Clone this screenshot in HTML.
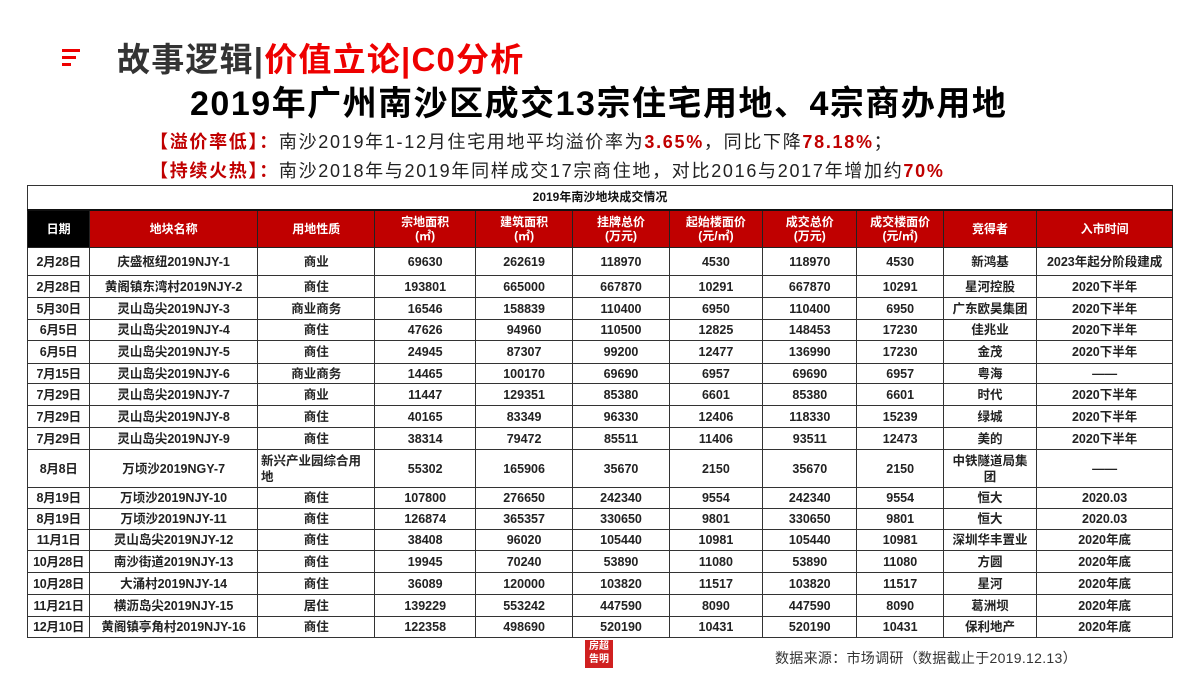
<!DOCTYPE html>
<html><head><meta charset="utf-8">
<style>
body{margin:0;width:1200px;height:676px;background:#fff;position:relative;overflow:hidden;font-family:"Liberation Sans","Noto Sans CJK SC",sans-serif;}
.abs{position:absolute;}
table{position:absolute;left:27px;top:185px;width:1146px;border-collapse:collapse;table-layout:fixed;}
td{border:1.5px solid #333;text-align:center;font-size:12.5px;font-weight:bold;color:#222;padding:0;line-height:14px;white-space:nowrap;overflow:hidden;}
tr.h td{background:#c00000;color:#fff;font-size:12px;border-color:#222;}
tr.h td:first-child{background:#000;}
tr.t td{font-size:12px;color:#111;}
</style></head><body>
<div class="abs" style="left:62px;top:49px;">
 <div style="width:18px;height:3px;background:#e00;margin-bottom:4px"></div>
 <div style="width:14px;height:3px;background:#e00;margin-bottom:4px"></div>
 <div style="width:9px;height:3px;background:#e00"></div>
</div>
<div class="abs" style="left:117px;top:40px;font-size:33px;font-weight:bold;line-height:40px;letter-spacing:1.2px;"><span style="color:#333">故事逻辑|</span><span style="color:#e00">价值立论|C0分析</span></div>
<div class="abs" style="left:190px;top:84px;width:840px;font-size:34px;font-weight:bold;line-height:40px;color:#000;letter-spacing:1.5px">2019年广州南沙区成交13宗住宅用地、4宗商办用地</div>
<div class="abs" style="left:150px;top:131px;font-size:18px;line-height:22px;color:#222;letter-spacing:1.7px;white-space:nowrap"><span style="color:#c00000;font-weight:bold">【溢价率低】：</span>南沙2019年1-12月住宅用地平均溢价率为<b style="color:#c00000">3.65%</b>，同比下降<b style="color:#c00000">78.18%</b>；</div>
<div class="abs" style="left:150px;top:160px;font-size:18px;line-height:22px;color:#222;letter-spacing:1.7px;white-space:nowrap"><span style="color:#c00000;font-weight:bold">【持续火热】：</span>南沙2018年与2019年同样成交17宗商住地，对比2016与2017年增加约<b style="color:#c00000">70%</b></div>

<table>
<colgroup><col style="width:62px"><col style="width:167px"><col style="width:117px"><col style="width:100px"><col style="width:97px"><col style="width:96px"><col style="width:93px"><col style="width:94px"><col style="width:86px"><col style="width:93px"><col style="width:135px"></colgroup>
<tr class="t" style="height:24px"><td colspan="11" style="border-bottom:2px solid #111">2019年南沙地块成交情况</td></tr>
<tr class="h" style="height:38px"><td>日期</td><td>地块名称</td><td>用地性质</td><td>宗地面积<br>(㎡)</td><td>建筑面积<br>(㎡)</td><td>挂牌总价<br>(万元)</td><td>起始楼面价<br>(元/㎡)</td><td>成交总价<br>(万元)</td><td>成交楼面价<br>(元/㎡)</td><td>竞得者</td><td>入市时间</td></tr>
<tbody id="tb"></tbody>
</table>

<div class="abs" style="left:585px;top:640px;width:28px;height:28px;background:#d02020;color:#fff;font-size:10px;line-height:13px;text-align:center;font-weight:bold">房超<br>告明</div>
<div class="abs" style="left:775px;top:648px;font-size:14px;color:#333;letter-spacing:0.3px">数据来源：市场调研（数据截止于2019.12.13）</div>

<script>
const rows=[
["2月28日","庆盛枢纽2019NJY-1","商业","69630","262619","118970","4530","118970","4530","新鸿基","2023年起分阶段建成",28],
["2月28日","黄阁镇东湾村2019NJY-2","商住","193801","665000","667870","10291","667870","10291","星河控股","2020下半年",22],
["5月30日","灵山岛尖2019NJY-3","商业商务","16546","158839","110400","6950","110400","6950","广东欧昊集团","2020下半年",22],
["6月5日","灵山岛尖2019NJY-4","商住","47626","94960","110500","12825","148453","17230","佳兆业","2020下半年",21],
["6月5日","灵山岛尖2019NJY-5","商住","24945","87307","99200","12477","136990","17230","金茂","2020下半年",23],
["7月15日","灵山岛尖2019NJY-6","商业商务","14465","100170","69690","6957","69690","6957","粤海","——",20],
["7月29日","灵山岛尖2019NJY-7","商业","11447","129351","85380","6601","85380","6601","时代","2020下半年",22],
["7月29日","灵山岛尖2019NJY-8","商住","40165","83349","96330","12406","118330","15239","绿城","2020下半年",22],
["7月29日","灵山岛尖2019NJY-9","商住","38314","79472","85511","11406","93511","12473","美的","2020下半年",22],
["8月8日","万顷沙2019NGY-7","新兴产业园综合用地","55302","165906","35670","2150","35670","2150","中铁隧道局集团","——",38],
["8月19日","万顷沙2019NJY-10","商住","107800","276650","242340","9554","242340","9554","恒大","2020.03",21],
["8月19日","万顷沙2019NJY-11","商住","126874","365357","330650","9801","330650","9801","恒大","2020.03",21],
["11月1日","灵山岛尖2019NJY-12","商住","38408","96020","105440","10981","105440","10981","深圳华丰置业","2020年底",21],
["10月28日","南沙街道2019NJY-13","商住","19945","70240","53890","11080","53890","11080","方圆","2020年底",22],
["10月28日","大涌村2019NJY-14","商住","36089","120000","103820","11517","103820","11517","星河","2020年底",22],
["11月21日","横沥岛尖2019NJY-15","居住","139229","553242","447590","8090","447590","8090","葛洲坝","2020年底",22],
["12月10日","黄阁镇亭角村2019NJY-16","商住","122358","498690","520190","10431","520190","10431","保利地产","2020年底",21]
];
const tb=document.getElementById('tb');
rows.forEach((r,i)=>{
 const tr=document.createElement('tr');
 
 
 tr.style.height=r[11]+'px';
 for(let j=0;j<11;j++){
  const td=document.createElement('td');
  
  
  let t=r[j];
  if(j==2&&t.length>6){td.style.whiteSpace='normal';td.style.textAlign='left';td.style.padding='0 6px 0 3px';td.style.lineHeight='16px';}
  if(j==9&&t.length>6){td.style.whiteSpace='normal';td.style.padding='0 4px';td.style.lineHeight='16px';}
  if(j==1&&t.length>16){td.style.letterSpacing='-0.6px';}
  if(j==0){td.style.letterSpacing='-0.3px';}
  td.textContent=t;
  tr.appendChild(td);
 }
 tb.appendChild(tr);
});
</script>
</body></html>
